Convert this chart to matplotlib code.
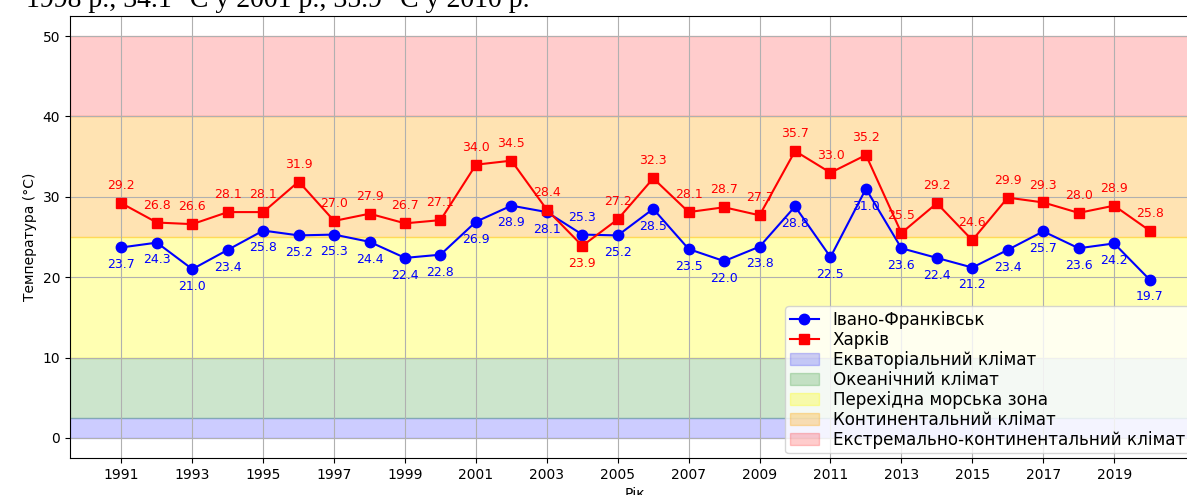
import matplotlib
matplotlib.use("Agg")
import matplotlib.pyplot as plt

years = list(range(1991, 2021))
ivano_frankivsk = [23.7, 24.3, 21.0, 23.4, 25.8, 25.2, 25.3, 24.4, 22.4, 22.8,
                   26.9, 28.9, 28.1, 25.3, 25.2, 28.5, 23.5, 22.0, 23.8, 28.8,
                   22.5, 31.0, 23.6, 22.4, 21.2, 23.4, 25.7, 23.6, 24.2, 19.7]
kharkiv = [29.2, 26.8, 26.6, 28.1, 28.1, 31.9, 27.0, 27.9, 26.7, 27.1,
           34.0, 34.5, 28.4, 23.9, 27.2, 32.3, 28.1, 28.7, 27.7, 35.7,
           33.0, 35.2, 25.5, 29.2, 24.6, 29.9, 29.3, 28.0, 28.9, 25.8]

zones = [
    (0, 2.5, "blue", 0.2, "Екваторіальний клімат"),
    (2.5, 10, "green", 0.2, "Океанічний клімат"),
    (10, 25, "yellow", 0.3, "Перехідна морська зона"),
    (25, 40, "orange", 0.3, "Континентальний клімат"),
    (40, 50, "red", 0.2, "Екстремально-континентальний клімат"),
]

fig = plt.figure(figsize=(11.87, 4.95), dpi=100)
ax = fig.add_axes([70 / 1187, 37 / 495, 1131 / 1187, 442 / 495])

ax.plot(years, ivano_frankivsk, marker="o", color="blue", markersize=7.5, label="Івано-Франківськ")
ax.plot(years, kharkiv, marker="s", color="red", markersize=7.5, label="Харків")

for lo, hi, c, a, name in zones:
    ax.axhspan(lo, hi, color=c, alpha=a, label=name)

# labels: the higher city gets its label above the point
for x, a, b in zip(years, ivano_frankivsk, kharkiv):
    off_a, off_b = (-15, 10) if a <= b else (10, -15)
    ax.annotate(f"{a:.1f}", (x, a), textcoords="offset points", xytext=(0, off_a),
                ha="center", color="blue", fontsize=9)
    ax.annotate(f"{b:.1f}", (x, b), textcoords="offset points", xytext=(0, off_b),
                ha="center", color="red", fontsize=9)

ax.set_xticks(years[::2])
ax.set_xlabel("Рік")
ax.set_ylabel("Температура (°C)")
ax.grid(True)
ax.legend(loc="lower right", bbox_to_anchor=(1189 / 1187, 42 / 495),
          bbox_transform=fig.transFigure, borderaxespad=0, fontsize=12.1,
          labelspacing=0.12, handlelength=1.75, borderpad=0.25)

# cropped line of document text above the chart
fig.text(530 / 1187, 1 - 7 / 495, "1998 р., 34.1 °С у 2001 р., 35.9 °С у 2010 р.",
         ha="right", va="baseline", fontfamily="Liberation Serif", fontsize=20)

fig.savefig("out.png", dpi=100)
